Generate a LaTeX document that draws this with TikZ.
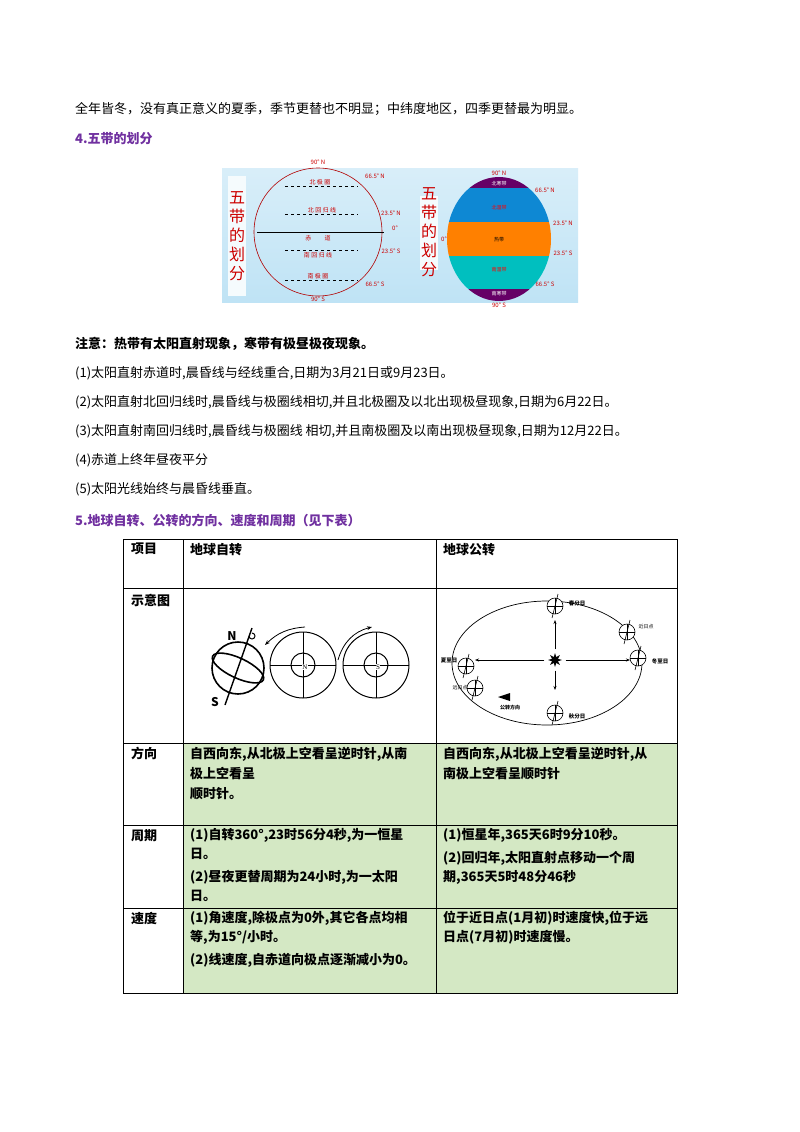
\documentclass[tikz,border=0pt]{standalone}
\usepackage{fontspec}
\setmainfont{Noto Sans CJK SC}
\newfontfamily\latf{Liberation Serif}
\usetikzlibrary{arrows.meta,shapes.geometric}
\definecolor{ttl}{HTML}{7030A0}
\definecolor{cellg}{HTML}{D4E8C4}
\definecolor{sky}{HTML}{BFE3F5}
\tikzset{
 txt/.style={anchor=west,inner sep=0pt,font=\fontsize{13}{16}\selectfont},
 btxt/.style={txt,font=\fontsize{13}{16}\selectfont\bfseries},
 ttlt/.style={txt,font=\fontsize{13}{16}\selectfont\bfseries,text=ttl},
 cell/.style={anchor=north west,inner sep=0pt,align=left,font=\fontsize{13}{20}\selectfont\bfseries},
 cellt/.style={cell,font=\fontsize{13}{19}\selectfont\bfseries},
 zl/.style={font=\fontsize{6}{7}\selectfont,text=red!80!black,inner sep=0pt},
 tiny/.style={font=\fontsize{5}{6}\selectfont,inner sep=0pt}
}
\begin{document}
\begin{tikzpicture}[x=1pt,y=-1pt]
\useasboundingbox (0,0) rectangle (800,1132);
\fill[white] (0,0) rectangle (800,1132);
\node[txt] (l0) at (75,109) {全年皆冬，没有真正意义的夏季，季节更替也不明显；中纬度地区，四季更替最为明显。};
\node[ttlt] (h4) at (75,139) {4.五带的划分};
% image
\shade[top color=sky!60,bottom color=sky] (222,168) rectangle (578,302);
\fill[white!85!sky] (228,176) rectangle (246,296);
\node[font=\fontsize{16}{19}\selectfont,text=red!80!black,align=center] (wd1) at (237,236) {五\\带\\的\\划\\分};
\draw[red!70!black,line width=0.6pt] (318,232) circle (64);
\foreach \y in {186,214,250,280}{\draw[dashed,thick] (285,\y) -- (358,\y);}
\draw[thick] (257,232) -- (384,232);
\node[zl] at (320,182) {北 极 圈};
\node[zl] at (322,210) {北 回 归 线};
\node[zl] at (318,238) {赤 \quad\quad 道};
\node[zl] at (318,255) {南 回 归 线};
\node[zl] at (318,276) {南 极 圈};
\node[zl] at (318,162) {90° N};
\node[zl] at (318,299) {90° S};
\node[zl] at (375,176) {66.5° N};
\node[zl] at (391,213) {23.5° N};
\node[zl] at (395,228) {0°};
\node[zl] at (391,251) {23.5° S};
\node[zl] at (375,284) {66.5° S};
\fill[white!85!sky] (420,196) rectangle (438,270);
\node[font=\fontsize{16}{19}\selectfont,text=red!80!black,align=center] (wd2) at (429,232) {五\\带\\的\\划\\分};
\begin{scope}
\clip (499,239) ellipse (52 and 62);
\fill[violet!80!black] (440,170) rectangle (560,188);
\fill[cyan!70!blue] (440,188) rectangle (560,222);
\fill[orange] (440,222) rectangle (560,256);
\fill[teal!50!cyan] (440,256) rectangle (560,289);
\fill[violet!80!black] (440,289) rectangle (560,310);
\end{scope}
\node[tiny,text=white] at (499,184) {北寒带};
\node[tiny,text=red] at (499,208) {北温带};
\node[tiny] at (499,240) {热带};
\node[tiny,text=red] at (499,270) {南温带};
\node[tiny,text=white] at (499,294) {南寒带};
\node[zl] at (499,173) {90° N};
\node[zl] at (499,305) {90° S};
\node[zl] at (545,190) {66.5° N};
\node[zl] at (563,223) {23.5° N};
\node[zl] at (563,253) {23.5° S};
\node[zl] at (545,284) {66.5° S};
\node[zl] at (444,239) {0°};
% notes
\node[btxt] (nt) at (75,344) {注意：热带有太阳直射现象，寒带有极昼极夜现象。};
\node[txt] (n1) at (75,373) {(1)太阳直射赤道时,晨昏线与经线重合,日期为3月21日或9月23日。};
\node[txt] (n2) at (75,402) {(2)太阳直射北回归线时,晨昏线与极圈线相切,并且北极圈及以北出现极昼现象,日期为6月22日。};
\node[txt] (n3) at (75,431) {(3)太阳直射南回归线时,晨昏线与极圈线 相切,并且南极圈及以南出现极昼现象,日期为12月22日。};
\node[txt] (n4) at (75,460) {(4)赤道上终年昼夜平分};
\node[txt] (n5) at (75,489) {(5)太阳光线始终与晨昏线垂直。};
\node[ttlt] (h5) at (75,520) {5.地球自转、公转的方向、速度和周期（见下表）};
% table
\fill[cellg] (183,743) rectangle (677,993);
\draw[line width=0.8pt] (123,539) rectangle (677,993);
\foreach \y in {588,743,825,908} \draw[line width=0.8pt] (123,\y) -- (677,\y);
\foreach \x in {183,436} \draw[line width=0.8pt] (\x,539) -- (\x,993);
\node[cell] (c11) at (131,543) {项目};
\node[cell] (c12) at (190,543) {地球自转};
\node[cell] (c13) at (443,543) {地球公转};
\node[cell] (c21) at (131,594) {示意图};
\node[cell] (c31) at (131,747) {方向};
\node[cell] (c32) at (190,747) {自西向东,从北极上空看呈逆时针,从南\\极上空看呈\\顺时针。};
\node[cell] (c33) at (443,747) {自西向东,从北极上空看呈逆时针,从\\南极上空看呈顺时针};
\node[cell] (c41) at (131,829) {周期};
\node[cellt] (c42) at (190,828) {(1)自转360°,23时56分4秒,为一恒星\\日。\\[4pt](2)昼夜更替周期为24小时,为一太阳\\日。};
\node[cellt] (c43) at (443,828) {(1)恒星年,365天6时9分10秒。\\[4pt](2)回归年,太阳直射点移动一个周\\期,365天5时48分46秒};
\node[cell] (c51) at (131,912) {速度};
\node[cellt] (c52) at (190,911) {(1)角速度,除极点为0外,其它各点均相\\等,为15°/小时。\\[4pt](2)线速度,自赤道向极点逐渐减小为0。};
\node[cellt] (c53) at (443,911) {位于近日点(1月初)时速度快,位于远\\日点(7月初)时速度慢。};
% rotation diagram
\draw[line width=1.6pt] (238,668) circle (26);
\draw[line width=1.6pt,rotate around={-25:(238,668)}] (238,668) ellipse (28 and 10);
\draw[line width=1.4pt] (225,705) -- (252,628);
\node[font=\fontsize{12}{12}\selectfont\bfseries] at (232,636) {N};
\node[font=\fontsize{12}{12}\selectfont\bfseries] at (215,702) {S};
\draw[line width=1pt] (249,636) arc (180:-90:3);
\foreach \c/\l in {303/N,376/S}{
 \draw[line width=1pt] (\c,665) circle (33);
 \draw[line width=1pt] (\c,665) circle (12);
 \draw[line width=1pt] (\c-33,665) -- (\c+33,665);
 \draw[line width=1pt] (\c,632) -- (\c,698);
 \node[fill=white,inner sep=0.5pt,font=\fontsize{7}{7}\selectfont] at (\c+2,667) {\latf\l};
}
\draw[-{Stealth[length=5pt]},line width=0.8pt] (305,627) to[bend right=20] (265,645);
\draw[-{Stealth[length=5pt]},line width=0.8pt] (338,660) to[bend left=30] (372,627);
% revolution diagram
\draw[line width=0.7pt] (547,663) ellipse (95 and 62);
\node[star,star points=8,star point ratio=2.2,fill=black,minimum size=14pt,inner sep=0] (sun) at (555,660) {};
\coordinate (ar) at (630,660);
\coordinate (al) at (475,660);
\coordinate (at) at (555,620);
\coordinate (ab) at (555,690);
\draw[-{Stealth[length=4pt]},line width=0.6pt] (sun.east) ++(3,0) -- (ar);
\draw[-{Stealth[length=4pt]},line width=0.6pt] (sun.west) ++(-3,0) -- (al);
\draw[-{Stealth[length=4pt]},line width=0.6pt] (sun.north) ++(0,-3) -- (at);
\draw[-{Stealth[length=4pt]},line width=0.6pt] (sun.south) ++(0,3) -- (ab);
\foreach \x/\y in {555/606,555/713,466/666,627/632,638/658,475/688}{
 \draw[fill=white,line width=0.6pt] (\x,\y) circle (8);
 \draw[line width=0.5pt] (\x-8,\y) -- (\x+8,\y);
 \draw[line width=0.5pt] (\x,\y-8) -- (\x,\y+8);
 \draw[line width=0.6pt] (\x-3,\y+12) -- (\x+3,\y-12);
}
\node[tiny,font=\fontsize{5.5}{6}\selectfont\bfseries] at (577,603) {春分日};
\node[tiny] at (646,627) {近日点};
\node[tiny,font=\fontsize{5.5}{6}\selectfont\bfseries] at (660,661) {冬至日};
\node[tiny,font=\fontsize{5.5}{6}\selectfont\bfseries] at (449,661) {夏至日};
\node[tiny] at (460,688) {远日点};
\node[tiny,font=\fontsize{5.5}{6}\selectfont\bfseries] at (577,716) {秋分日};
\node[tiny,font=\fontsize{5}{6}\selectfont\bfseries] at (510,708) {公转方向};
\fill (498,697) -- (510,693) -- (510,701) -- cycle;
\end{tikzpicture}
\end{document}
